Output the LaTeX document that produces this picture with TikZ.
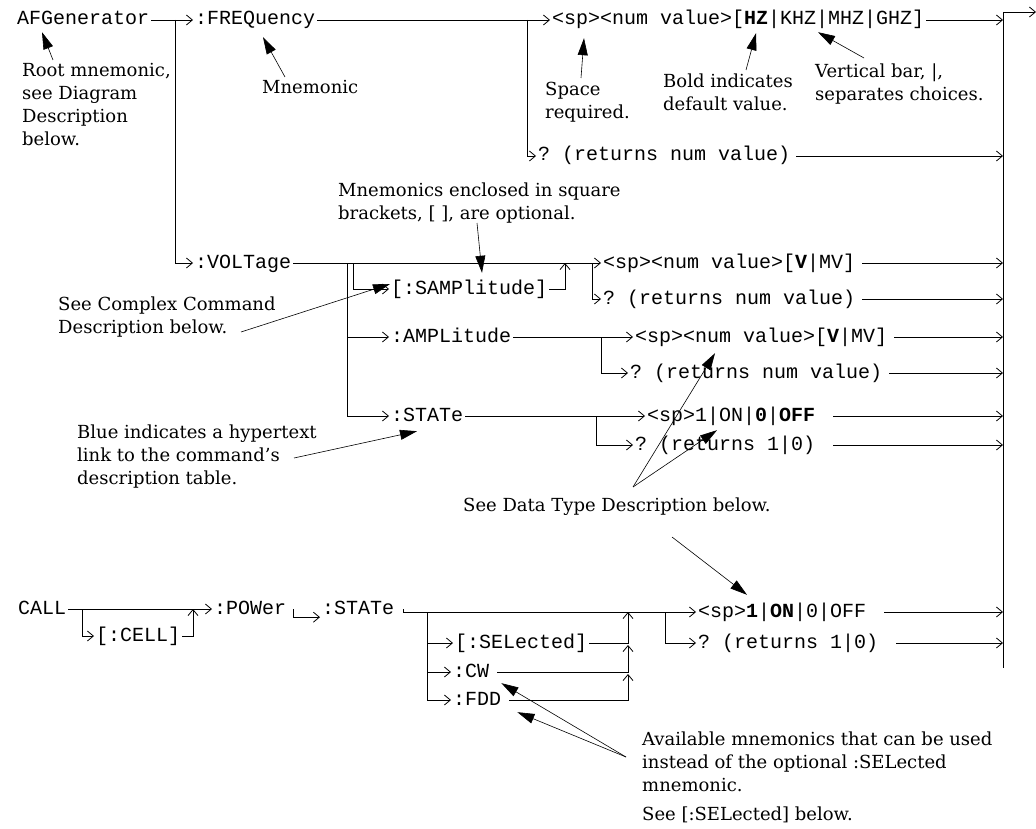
\documentclass[tikz,border=0pt]{standalone}
\usepackage{fontspec}
\setmonofont{Liberation Mono}
\newfontfamily\notefont{DejaVu Serif}[Ligatures=TeX]
\usepackage{xcolor}
\usetikzlibrary{arrows.meta}

\begin{document}
\begin{tikzpicture}[x=1pt,y=-1pt,
                    mn/.style={anchor=west,inner xsep=2pt,inner ysep=0pt,text height=13pt,text depth=3pt,font=\ttfamily\fontsize{20}{22}\selectfont},
                    txt/.style={anchor=north west,inner sep=0pt,align=left,font=\notefont\fontsize{18}{23}\selectfont},
                    wire/.style={line width=0.8pt},
                    conn/.style={wire,-{Straight Barb[length=6pt,width=10pt]}},
                    note/.style={line width=0.6pt,-{Triangle[length=17pt,width=10pt]}}]
                    \useasboundingbox (0,0) rectangle (1036,829);

                    \node[mn] (afgen) at (15,20) {AFGenerator};
                    \node[mn] (freq) at (193,20) {:FREQuency};
                    \node[mn] (freqsp) at (550,20) {<sp><num value>[\textbf{HZ}|KHZ|MHZ|GHZ]};
                    \node[mn] (freqq) at (536,156) {? (returns num value)};
                    \node[mn] (volt) at (193,263) {:VOLTage};
                    \node[mn] (samp) at (389,289) {[:SAMPlitude]};
                    \node[mn] (voltsp) at (601,263) {<sp><num value>[\textbf{V}|MV]};
                    \node[mn] (voltq) at (601,299) {? (returns num value)};
                    \node[mn] (amp) at (389,337) {:AMPLitude};
                    \node[mn] (ampsp) at (633,337) {<sp><num value>[\textbf{V}|MV]};
                    \node[mn] (ampq) at (628,373) {? (returns num value)};
                    \node[mn] (state) at (389,416) {:STATe};
                    \node[mn] (statesp) at (645,416) {<sp>1|ON|\textbf{0}|\textbf{OFF}};
                    \node[mn] (stateq) at (633,445) {? (returns 1|0)};
                    \node[mn] (call) at (16,609) {CALL};
                    \node[mn] (cell) at (94,636) {[:CELL]};
                    \node[mn] (power) at (212,609) {:POWer};
                    \node[mn] (cstate) at (320,609) {:STATe};
                    \node[mn] (csp) at (696,612) {<sp>\textbf{1}|\textbf{ON}|0|OFF};
                    \node[mn] (cq) at (696,643) {? (returns 1|0)};
                    \node[mn] (sel) at (453,643) {[:SELected]};
                    \node[mn] (cw) at (451,672) {:CW};
                    \node[mn] (fdd) at (451,700) {:FDD};

                    \node[txt] (rootnote) at (22,63) {Root mnemonic,\\see Diagram\\Description\\below.};
                    \node[txt] (mnnote) at (262,80) {Mnemonic};
                    \node[txt] (spnote) at (545,82) {Space\\required.};
                    \node[txt] (boldnote) at (663,74) {Bold indicates\\default value.};
                    \node[txt] (barnote) at (815,64) {Vertical bar, |,\\separates choices.};
                    \node[txt] (brknote) at (338,183) {Mnemonics enclosed in square\\brackets, [ ], are optional.};
                    \node[txt] (cplxnote) at (58,297) {See Complex Command\\Description below.};
                    \node[txt] (bluenote) at (77,425) {Blue indicates a hypertext\\link to the command's\\description table.};
                    \node[txt] (dtnote) at (463,498) {See Data Type Description below.};
                    \node[txt] (availnote) at (642,732) {Available mnemonics that can be used\\instead of the optional :SELected\\mnemonic.};
                    \node[txt] (seenote) at (642,807) {See [:SELected] below.};

                    \coordinate (bartop) at (1003,12);
                    \coordinate (barbot) at (1003,668);
                    \coordinate (exit) at (1036,12);
                    \coordinate (b1) at (175,20);
                    \coordinate (b2) at (527,20);
                    \coordinate (v1) at (347,263);
                    \coordinate (v2) at (353,263);
                    \coordinate (v3) at (565,263);
                    \coordinate (v4) at (592,263);
                    \coordinate (a1) at (601,337);
                    \coordinate (t1) at (596,416);
                    \coordinate (c1) at (82,609);
                    \coordinate (c2) at (193,609);
                    \coordinate (s1) at (427,612);
                    \coordinate (s2) at (665,612);
                    \coordinate (u1) at (628,612);
                    \coordinate (u2) at (628,645);
                    \coordinate (u3) at (628,674);

                    \draw[wire] (bartop) -- (barbot);
                    \draw[conn] (bartop) -- (exit);

                    \draw[conn] (afgen) -- (freq);
                    \draw[conn] (b1) |- (volt.west);
                    \draw[conn] (freq) -- (freqsp);
                    \draw[conn] (b2) |- (freqq.west);
                    \draw[conn] (freqsp.east) -- (freqsp.east -| bartop);
                    \draw[conn] ([xshift=4pt]freqq.east) -- (freqq.east -| bartop);

                    \draw[conn] (volt) -- (voltsp);
                    \draw[conn] (v2) |- (samp.west);
                    \draw[conn] (samp.east) -| (v3);
                    \draw[conn] (v4) |- (voltq.west);
                    \draw[conn] (v1) |- (state.west);
                    \draw[conn] (v1 |- amp.west) -- (amp.west);
                    \draw[conn] (amp) -- (ampsp);
                    \draw[conn] (a1) |- (ampq.west);
                    \draw[conn] (state) -- (statesp);
                    \draw[conn] (t1) |- (stateq.west);
                    \foreach \row in {voltsp,voltq,ampsp,ampq}
                        \draw[conn] ([xshift=5pt]\row.east) -- (\row.east -| bartop);
                    \foreach \row in {statesp,stateq}
                        \draw[conn] ([xshift=16pt]\row.east) -- (\row.east -| bartop);

                    \draw[conn] (call) -- (power);
                    \draw[conn] (c1) |- (cell.west);
                    \draw[conn] (cell.east) -| (c2);
                    \draw[conn] ([xshift=5pt]power.east) |- (cstate.south west);
                    \draw[conn] ([xshift=7pt]cstate.east) |- (csp.west);
                    \draw[conn] (s1 |- sel.west) -- (sel.west);
                    \draw[conn] (s1 |- cw.west) -- (cw.west);
                    \draw[conn] (s1) |- (fdd.west);
                    \draw[conn] (sel.east) -| (u1);
                    \draw[conn] ([xshift=6pt]cw.east) -| (u2);
                    \draw[conn] ([xshift=6pt]fdd.east) -| (u3);
                    \draw[conn] (s2) |- (cq.west);
                    \draw[conn] ([xshift=16pt]csp.east) -- (csp.east -| bartop);
                    \draw[conn] ([xshift=16pt]cq.east) -- (cq.east -| bartop);

                    \draw[note] ([shift={(31pt,3pt)}]rootnote.north west) -- ([shift={(27pt,-4pt)}]afgen.south west);
                    \draw[note] ([shift={(23pt,3pt)}]mnnote.north west) -- ([shift={(70pt,-9pt)}]freq.south west);
                    \draw[note] ([shift={(36pt,4pt)}]spnote.north west) -- ([shift={(34pt,-10pt)}]freqsp.south west);
                    \draw[note] ([shift={(83pt,4pt)}]boldnote.north west) -- ([shift={(206pt,-5pt)}]freqsp.south west);
                    \draw[note] ([shift={(49pt,6pt)}]barnote.north west) -- ([shift={(268pt,-4pt)}]freqsp.south west);
                    \draw[note] ([shift={(139pt,-40pt)}]brknote.north west) -- ([shift={(93pt,8pt)}]samp.north west);
                    \draw[note] ([shift={(183pt,-35pt)}]cplxnote.north west) -- ([shift={(1pt,5pt)}]samp.west);
                    \draw[note] ([shift={(217pt,-33pt)}]bluenote.north west) -- ([shift={(28pt,-7pt)}]state.south west);
                    \draw[note] ([shift={(170pt,11pt)}]dtnote.north west) -- ([shift={(82pt,-8pt)}]ampsp.south west);
                    \draw[note] ([shift={(170pt,11pt)}]dtnote.north west) -- ([shift={(72pt,-6pt)}]statesp.south west);
                    \draw[note] ([shift={(209pt,-39pt)}]dtnote.north west) -- ([shift={(51pt,9pt)}]csp.north west);
                    \draw[note] ([shift={(-16pt,-25pt)}]availnote.north west) -- ([shift={(10pt,-3pt)}]cw.south east);
                    \draw[note] ([shift={(-16pt,-25pt)}]availnote.north west) -- ([shift={(14pt,-4pt)}]fdd.south east);
                \end{tikzpicture}
\end{document}
